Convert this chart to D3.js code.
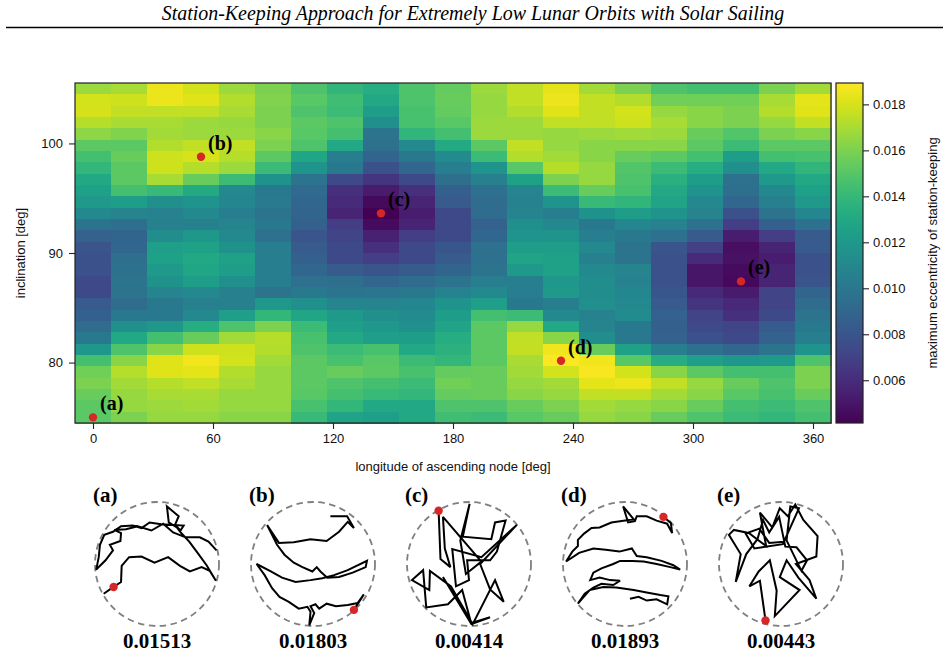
<!DOCTYPE html>
<html>
<head>
<meta charset="utf-8">
<script src="https://cdn.jsdelivr.net/npm/d3@7"></script>
<style>
  body { margin: 0; background: #fff; }
  svg { display: block; }
</style>
</head>
<body>
<div id="chart"></div>
<script>
// heatmap grid: longitude of ascending node (columns) and inclination (rows, top to bottom)
const longitudes = [0, 18, 36, 54, 72, 90, 108, 126, 144, 162, 180, 198, 216, 234, 252, 270, 288, 306, 324, 342, 360];
const inclinations = [105.00, 103.97, 102.93, 101.90, 100.86, 99.83, 98.79, 97.76, 96.72, 95.69,
  94.66, 93.62, 92.59, 91.55, 90.52, 89.48, 88.45, 87.41, 86.38, 85.34,
  84.31, 83.28, 82.24, 81.21, 80.17, 79.14, 78.10, 77.07, 76.03, 75.00];

// maximum eccentricity of station-keeping, one row per inclination
const eccRows = [
  [0.0167,0.0170,0.0185,0.0179,0.0167,0.0160,0.0148,0.0138,0.0133,0.0148,0.0154,0.0167,0.0175,0.0183,0.0169,0.0160,0.0148,0.0145,0.0145,0.0160,0.0169],
  [0.0179,0.0178,0.0185,0.0182,0.0172,0.0161,0.0151,0.0144,0.0130,0.0148,0.0155,0.0166,0.0175,0.0185,0.0176,0.0172,0.0157,0.0157,0.0157,0.0170,0.0183],
  [0.0180,0.0176,0.0175,0.0175,0.0170,0.0160,0.0148,0.0142,0.0123,0.0146,0.0154,0.0166,0.0172,0.0182,0.0176,0.0179,0.0166,0.0163,0.0160,0.0172,0.0182],
  [0.0173,0.0170,0.0170,0.0167,0.0166,0.0160,0.0152,0.0148,0.0115,0.0146,0.0151,0.0167,0.0167,0.0175,0.0175,0.0178,0.0170,0.0163,0.0160,0.0166,0.0176],
  [0.0164,0.0161,0.0169,0.0167,0.0167,0.0163,0.0151,0.0145,0.0098,0.0138,0.0145,0.0167,0.0167,0.0166,0.0167,0.0169,0.0167,0.0155,0.0149,0.0160,0.0163],
  [0.0152,0.0152,0.0172,0.0175,0.0175,0.0160,0.0148,0.0130,0.0096,0.0111,0.0131,0.0152,0.0175,0.0166,0.0163,0.0163,0.0163,0.0152,0.0142,0.0152,0.0152],
  [0.0145,0.0155,0.0178,0.01803,0.0173,0.0152,0.0129,0.0104,0.0089,0.0101,0.0112,0.0142,0.0172,0.0169,0.0163,0.0155,0.0152,0.0145,0.0123,0.0145,0.0146],
  [0.0139,0.0152,0.0178,0.0173,0.0167,0.0142,0.0118,0.0101,0.0078,0.0090,0.0104,0.0118,0.0151,0.0173,0.0166,0.0149,0.0142,0.0133,0.0115,0.0130,0.0138],
  [0.0130,0.0152,0.0170,0.0155,0.0142,0.0117,0.0098,0.0074,0.0064,0.0074,0.0095,0.0105,0.0126,0.0160,0.0166,0.0148,0.0135,0.0123,0.0096,0.0121,0.0130],
  [0.0126,0.0145,0.0141,0.0131,0.0111,0.0101,0.0092,0.0062,0.0052,0.0062,0.0086,0.0096,0.0108,0.0142,0.0155,0.0146,0.0130,0.0118,0.0095,0.0111,0.0126],
  [0.0121,0.0123,0.0115,0.0118,0.0109,0.0102,0.0090,0.0059,0.0045,0.0056,0.0083,0.0093,0.0107,0.0118,0.0141,0.0138,0.0127,0.0111,0.0090,0.0105,0.0121],
  [0.0111,0.0108,0.0107,0.0111,0.0104,0.0098,0.0089,0.0056,0.00414,0.0053,0.0074,0.0093,0.0108,0.0104,0.0117,0.0123,0.0118,0.0108,0.0078,0.0098,0.0109],
  [0.0098,0.0095,0.0105,0.0105,0.0108,0.0101,0.0086,0.0068,0.0046,0.0056,0.0074,0.0087,0.0115,0.0111,0.0101,0.0109,0.0107,0.0096,0.0068,0.0086,0.0096],
  [0.0087,0.0089,0.0114,0.0120,0.0111,0.0096,0.0080,0.0071,0.0055,0.0068,0.0074,0.0090,0.0118,0.0118,0.0104,0.0101,0.0096,0.0083,0.0053,0.0068,0.0083],
  [0.0080,0.0090,0.0124,0.0126,0.0117,0.0104,0.0083,0.0074,0.0062,0.0074,0.0081,0.0096,0.0123,0.0123,0.0111,0.0098,0.0080,0.0070,0.0047,0.0056,0.0083],
  [0.0078,0.0095,0.0126,0.0130,0.0126,0.0104,0.0086,0.0074,0.0068,0.0074,0.0083,0.0096,0.0127,0.0126,0.0105,0.0098,0.0078,0.0059,0.0048,0.0053,0.0078],
  [0.0078,0.0096,0.0121,0.0129,0.0123,0.0104,0.0090,0.0083,0.0080,0.0083,0.0089,0.0098,0.0121,0.0126,0.0111,0.0108,0.0078,0.0050,0.0046,0.0056,0.0078],
  [0.0074,0.0098,0.0117,0.0123,0.0115,0.0104,0.0096,0.0095,0.0090,0.0093,0.0098,0.0104,0.0104,0.0120,0.0114,0.0107,0.0078,0.0050,0.00443,0.0056,0.0080],
  [0.0074,0.0098,0.0108,0.0111,0.0105,0.0098,0.0101,0.0098,0.0099,0.0101,0.0107,0.0111,0.0104,0.0121,0.0114,0.0109,0.0081,0.0058,0.0052,0.0071,0.0089],
  [0.0083,0.0093,0.0101,0.0105,0.0105,0.0120,0.0115,0.0108,0.0108,0.0109,0.0118,0.0124,0.0101,0.0104,0.0115,0.0111,0.0083,0.0064,0.0058,0.0071,0.0093],
  [0.0086,0.0101,0.0101,0.0111,0.0124,0.0139,0.0129,0.0121,0.0115,0.0112,0.0123,0.0145,0.0142,0.0111,0.0107,0.0112,0.0087,0.0071,0.0062,0.0074,0.0098],
  [0.0093,0.0115,0.0120,0.0133,0.0148,0.0160,0.0142,0.0124,0.0120,0.0115,0.0127,0.0152,0.0166,0.0130,0.0108,0.0101,0.0086,0.0074,0.0072,0.0083,0.0101],
  [0.0101,0.0130,0.0145,0.0155,0.0169,0.0173,0.0146,0.0130,0.0124,0.0123,0.0133,0.0152,0.0175,0.0163,0.0114,0.0101,0.0087,0.0078,0.0074,0.0087,0.0104],
  [0.0120,0.0148,0.0163,0.0178,0.0178,0.0172,0.0148,0.0142,0.0146,0.0130,0.0136,0.0152,0.0176,0.0186,0.0155,0.0126,0.0104,0.0096,0.0090,0.0098,0.0118],
  [0.0145,0.0163,0.0182,0.0186,0.0179,0.0169,0.0152,0.0146,0.0151,0.0142,0.0139,0.0152,0.0170,0.01893,0.0186,0.0151,0.0133,0.0124,0.0120,0.0121,0.0148],
  [0.0157,0.0173,0.0182,0.0183,0.0172,0.0166,0.0152,0.0155,0.0152,0.0146,0.0154,0.0155,0.0169,0.0179,0.0188,0.0179,0.0163,0.0152,0.0145,0.0145,0.0160],
  [0.0160,0.0169,0.0173,0.0175,0.0170,0.0166,0.0152,0.0148,0.0145,0.0142,0.0157,0.0155,0.0166,0.0169,0.0183,0.0185,0.0175,0.0166,0.0155,0.0148,0.0160],
  [0.0155,0.0166,0.0170,0.0170,0.0166,0.0166,0.0151,0.0145,0.0141,0.0139,0.0154,0.0155,0.0163,0.0166,0.0175,0.0176,0.0169,0.0163,0.0151,0.0146,0.0155],
  [0.0152,0.0166,0.0167,0.0169,0.0166,0.0166,0.0146,0.0139,0.0130,0.0130,0.0148,0.0148,0.0155,0.0160,0.0169,0.0166,0.0163,0.0155,0.0145,0.0142,0.0148],
  [0.01513,0.0160,0.0166,0.0166,0.0163,0.0163,0.0141,0.0127,0.0124,0.0130,0.0144,0.0142,0.0151,0.0155,0.0166,0.0163,0.0155,0.0148,0.0142,0.0139,0.0145]
];

const lonTicks = [0, 60, 120, 180, 240, 300, 360];
const incTicks = [80, 90, 100];
const cbarTicks = [0.006, 0.008, 0.010, 0.012, 0.014, 0.016, 0.018];

// the five marked cases
const markLabels = ["(a)", "(b)", "(c)", "(d)", "(e)"];
const markLon = [0, 54, 144, 234, 324];
const markInc = [75.00, 98.79, 93.62, 80.17, 87.41];
const markValues = [0.01513, 0.01803, 0.00414, 0.01893, 0.00443];

// station-keeping trajectories, normalized to the dashed circle (radius = 100)
const trajA = [[-86,-48],[-70,-37],[-58,-29],[-57,-3],[-45,11],[-25,12],[-4,2],[18,11],[37,-3],[53,-12],[72,-5],[85,-11],[95,-27],
  [80,-2],[64,20],[52,36],[39,50],[32,59],[19,67],[16,93],[35,77],[29,63],[38,54],[43,62],[7,64],[-12,67],[-25,58],[-39,62],
  [-58,61],[-71,52],[-85,47],[-92,31],[-94,11],[-98,-9],[-83,6],[-71,22],[-76,31],[-59,37],[-58,50],[-69,55],[-50,56],[-31,61],
  [-9,54],[10,65],[26,51],[46,43],[69,43],[83,36],[96,22]];
const trajB = [[66,-74],[82,-49],[72,-63],[56,-66],[37,-68],[22,-64],[10,-72],[4,-65],[-4,-68],[2,-79],[-6,-99],[-4,-77],[-9,-69],
  [-23,-72],[-39,-61],[-54,-53],[-66,-39],[-78,-18],[-91,0],[-68,-12],[-50,-22],[-28,-29],[-4,-26],[15,-23],[34,-18],[56,-10],
  [87,5],[85,-5],[64,-14],[42,-21],[23,-22],[12,-12],[6,-5],[-1,-12],[-17,-5],[-31,2],[-46,15],[-58,31],[-74,63],[-55,34],
  [-31,35],[-4,40],[22,37],[42,52],[56,68],[66,58],[55,77],[28,77]];
const trajC = [[-49,86],[-46,8],[-30,-5],[-39,25],[-42,76],[20,4],[-5,-16],[-14,38],[1,97],[-10,44],[36,40],[42,67],[59,70],
  [45,20],[34,6],[-3,6],[0,-26],[-21,-36],[-27,24],[20,11],[77,63],[18,0],[34,-41],[56,-61],[42,-26],[6,-97],[-29,-36],
  [-63,-11],[-64,-42],[-92,-26],[-74,-10],[-69,-70],[-34,-65],[-11,-42],[4,-97],[-42,-21],[4,-97],[34,-86],[4,-95]];
const trajD = [[62,76],[74,66],[76,50],[68,65],[51,70],[35,77],[19,77],[16,69],[5,67],[-3,93],[14,72],[-8,69],[-22,67],[-41,59],
  [-54,58],[-66,49],[-76,39],[-76,29],[-85,20],[-95,4],[-74,18],[-51,25],[-31,23],[-9,20],[11,25],[19,13],[35,11],[59,5],
  [78,-2],[89,-9],[73,-5],[51,0],[30,4],[12,5],[-8,5],[-19,0],[-38,-7],[-51,-14],[-56,-26],[-41,-22],[-24,-26],[-8,-27],
  [-19,-34],[-38,-32],[-51,-38],[-65,-48],[-76,-64],[-57,-42],[-35,-37],[-14,-38],[14,-42],[35,-46],[57,-50],[70,-52],
  [68,-65],[51,-57],[35,-59],[22,-53],[8,-56]];
const trajE = [[-25,-91],[-34,-27],[-51,-36],[-36,-12],[-18,6],[-7,-43],[-10,-84],[30,-42],[-2,-21],[9,6],[28,-22],[57,-56],
  [46,-26],[24,0],[57,12],[59,45],[36,71],[23,96],[11,77],[-2,90],[-14,59],[-34,83],[-24,29],[-52,50],[-76,55],[-84,47],
  [-65,16],[-73,-29],[-56,16],[-38,40],[-29,71],[-19,51],[-3,76],[7,28],[25,27],[42,6],[33,-11],[9,38],[15,93],[29,90],
  [3,32],[-43,25],[-57,49],[-35,57],[-19,34],[5,36]];
const trajectories = [trajA, trajB, trajC, trajD, trajE];
const trajDot = [1, 0, 0, 0, 0];

const width = 948, height = 658;
const plot = {left: 75, right: 831, top: 83, bottom: 423};
const cbar = {left: 836, right: 863};
const sans = '"Liberation Sans", Arial, Helvetica, sans-serif';
const serif = '"Liberation Serif", "Times New Roman", Times, serif';
const red = "#d62728";

const svg = d3.select("#chart").append("svg")
  .attr("width", width).attr("height", height)
  .attr("viewBox", [0, 0, width, height]);

/* page header */
const title = svg.append("text")
  .attr("x", 473).attr("y", 20)
  .attr("text-anchor", "middle")
  .style("font-family", serif).style("font-style", "italic").style("font-size", "16px")
  .text("Station-Keeping Approach for Extremely Low Lunar Orbits with Solar Sailing");
const tLen = title.node().getComputedTextLength();
title.style("font-size", (16 * 623 / tLen) + "px");

svg.append("line")
  .attr("x1", 6).attr("x2", 943).attr("y1", 27.5).attr("y2", 27.5)
  .attr("stroke", "#000").attr("stroke-width", 1.3);

/* scales */
const dLon = longitudes[1] - longitudes[0];
const dInc = inclinations[0] - inclinations[1];
const xScale = d3.scaleLinear()
  .domain([d3.min(longitudes) - dLon / 2, d3.max(longitudes) + dLon / 2])
  .range([plot.left, plot.right]);
const yScale = d3.scaleLinear()
  .domain([d3.min(inclinations) - dInc / 2, d3.max(inclinations) + dInc / 2])
  .range([plot.bottom, plot.top]);

const allValues = eccRows.flat();
const color = d3.scaleSequential(d3.interpolateViridis)
  .domain([d3.min(allValues), d3.max(allValues)]);

/* heatmap cells */
const cells = [];
eccRows.forEach((row, i) => row.forEach((v, j) => cells.push({lon: longitudes[j], inc: inclinations[i], value: v})));

svg.append("g")
  .attr("class", "cells")
  .attr("shape-rendering", "crispEdges")
  .selectAll("rect")
  .data(cells)
  .join("rect")
  .attr("x", d => xScale(d.lon - dLon / 2))
  .attr("y", d => yScale(d.inc + dInc / 2))
  .attr("width", d => xScale(d.lon + dLon / 2) - xScale(d.lon - dLon / 2) + 0.5)
  .attr("height", d => yScale(d.inc - dInc / 2) - yScale(d.inc + dInc / 2) + 0.5)
  .attr("fill", d => color(d.value));

svg.append("rect")
  .attr("x", plot.left).attr("y", plot.top)
  .attr("width", plot.right - plot.left).attr("height", plot.bottom - plot.top)
  .attr("fill", "none").attr("stroke", "#222").attr("stroke-width", 1.2);

/* axes */
const xGroup = svg.append("g")
  .attr("transform", `translate(0,${plot.bottom})`)
  .call(d3.axisBottom(xScale).tickValues(lonTicks).tickSize(6).tickPadding(5).tickSizeOuter(0));
const yGroup = svg.append("g")
  .attr("transform", `translate(${plot.left},0)`)
  .call(d3.axisLeft(yScale).tickValues(incTicks).tickSize(6).tickPadding(6).tickSizeOuter(0));
[xGroup, yGroup].forEach(g => {
  g.select(".domain").remove();
  g.selectAll("line").attr("stroke", "#222").attr("stroke-width", 1.1);
  g.selectAll("text").style("font-family", sans).style("font-size", "13px").attr("fill", "#111");
});

svg.append("text")
  .attr("x", (plot.left + plot.right) / 2).attr("y", 471)
  .attr("text-anchor", "middle")
  .style("font-family", sans).style("font-size", "13px").attr("fill", "#111")
  .text("longitude of ascending node [deg]");
svg.append("text")
  .attr("transform", `translate(25,${(plot.top + plot.bottom) / 2}) rotate(-90)`)
  .attr("text-anchor", "middle")
  .style("font-family", sans).style("font-size", "13px").attr("fill", "#111")
  .text("inclination [deg]");

/* marked points on the map */
const marks = markLabels.map((l, i) => ({label: l, lon: markLon[i], inc: markInc[i]}));
svg.append("g").selectAll("circle")
  .data(marks).join("circle")
  .attr("cx", d => xScale(d.lon)).attr("cy", d => yScale(d.inc))
  .attr("r", 4.2).attr("fill", red);
svg.append("g").selectAll("text")
  .data(marks).join("text")
  .attr("x", d => xScale(d.lon) + 7).attr("y", d => yScale(d.inc) - 7)
  .style("font-family", serif).style("font-weight", "bold").style("font-size", "20px")
  .text(d => d.label);

/* colorbar */
const cScale = d3.scaleLinear().domain(color.domain()).range([plot.bottom, plot.top]);
const grad = svg.append("defs").append("linearGradient")
  .attr("id", "viridis").attr("x1", 0).attr("y1", 1).attr("x2", 0).attr("y2", 0);
grad.selectAll("stop")
  .data(d3.range(0, 1.0001, 0.05))
  .join("stop")
  .attr("offset", d => d)
  .attr("stop-color", d => d3.interpolateViridis(d));
svg.append("rect")
  .attr("x", cbar.left).attr("y", plot.top)
  .attr("width", cbar.right - cbar.left).attr("height", plot.bottom - plot.top)
  .attr("fill", "url(#viridis)").attr("stroke", "#222").attr("stroke-width", 1.2);
const cGroup = svg.append("g")
  .attr("transform", `translate(${cbar.right},0)`)
  .call(d3.axisRight(cScale).tickValues(cbarTicks).tickFormat(d3.format(".3f")).tickSize(6).tickPadding(4).tickSizeOuter(0));
cGroup.select(".domain").remove();
cGroup.selectAll("line").attr("stroke", "#222").attr("stroke-width", 1.1);
cGroup.selectAll("text").style("font-family", sans).style("font-size", "13px").attr("fill", "#111");
svg.append("text")
  .attr("transform", `translate(937,${(plot.top + plot.bottom) / 2}) rotate(-90)`)
  .attr("text-anchor", "middle")
  .style("font-family", sans).style("font-size", "13px").attr("fill", "#111")
  .text("maximum eccentricity of station-keeping");

/* trajectory panels */
const panelX = d3.scalePoint().domain(markLabels).range([157, 781]);
const panelY = 564, radius = 62;

markLabels.forEach((lab, i) => {
  const cx = panelX(lab);
  const sx = d3.scaleLinear().domain([-100, 100]).range([cx - radius, cx + radius]);
  const sy = d3.scaleLinear().domain([-100, 100]).range([panelY + radius, panelY - radius]);
  const g = svg.append("g").attr("class", "panel");

  g.append("circle")
    .attr("cx", cx).attr("cy", panelY).attr("r", radius)
    .attr("fill", "none").attr("stroke", "#7f7f7f").attr("stroke-width", 1.8)
    .attr("stroke-dasharray", "6.5,4.5");

  const line = d3.line().x(d => sx(d[0])).y(d => sy(d[1]));
  g.append("path")
    .attr("d", line(trajectories[i]))
    .attr("fill", "none").attr("stroke", "#000").attr("stroke-width", 2)
    .attr("stroke-linejoin", "miter").attr("stroke-miterlimit", 3);

  const dot = trajectories[i][trajDot[i]];
  g.append("circle")
    .attr("cx", sx(dot[0])).attr("cy", sy(dot[1])).attr("r", 4.2).attr("fill", red);

  g.append("text")
    .attr("x", cx - 64).attr("y", 502)
    .style("font-family", serif).style("font-weight", "bold").style("font-size", "21px")
    .text(lab);
  g.append("text")
    .attr("x", cx).attr("y", 648)
    .attr("text-anchor", "middle")
    .style("font-family", serif).style("font-weight", "bold").style("font-size", "21px")
    .text(d3.format(".5f")(markValues[i]));
});
</script>
</body>
</html>
